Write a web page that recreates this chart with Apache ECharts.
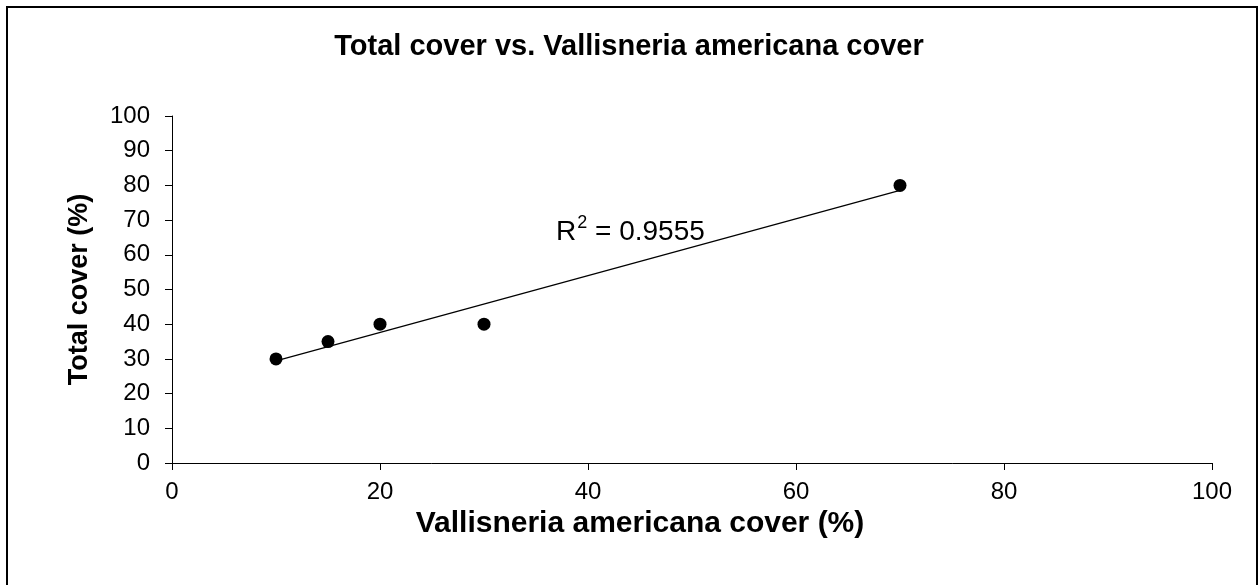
<!DOCTYPE html>
<html>
<head>
<meta charset="utf-8">
<title>Total cover vs. Vallisneria americana cover</title>
<script src="https://cdn.jsdelivr.net/npm/echarts@6/dist/echarts.min.js"></script>
<style>
  html, body { margin: 0; padding: 0; background: #fff; }
  #chart { width: 1258px; height: 585px; }
</style>
</head>
<body>
<div id="chart"></div>
<script>
// Survey plots: Vallisneria americana cover and total cover (%)
const vallisneriaCover = [10, 15, 20, 30, 70];
const totalCover = [30, 35, 40, 40, 80];
const rSquaredText = '0.9555';

const FONT = 'Arial, "Liberation Sans", sans-serif';

// Least-squares linear trendline through the points
function linearFit(xs, ys) {
  const n = xs.length;
  const mx = xs.reduce((a, b) => a + b, 0) / n;
  const my = ys.reduce((a, b) => a + b, 0) / n;
  let sxy = 0, sxx = 0;
  for (let i = 0; i < n; i++) {
    sxy += (xs[i] - mx) * (ys[i] - my);
    sxx += (xs[i] - mx) * (xs[i] - mx);
  }
  const slope = sxy / sxx;
  return { slope, intercept: my - slope * mx };
}
const fit = linearFit(vallisneriaCover, totalCover);
const xMin = Math.min(...vallisneriaCover);
const xMax = Math.max(...vallisneriaCover);
const trend = [
  [xMin, fit.intercept + fit.slope * xMin],
  [xMax, fit.intercept + fit.slope * xMax]
];

const points = vallisneriaCover.map((x, i) => [x, totalCover[i]]);

const chart = echarts.init(document.getElementById('chart'), null, { renderer: 'canvas' });
chart.setOption({
  backgroundColor: '#ffffff',
  animation: false,
  textStyle: { fontFamily: FONT, color: '#000' },
  title: {
    text: 'Total cover vs. Vallisneria americana cover',
    left: 'center',
    top: 27,
    textStyle: { fontFamily: FONT, fontSize: 29, fontWeight: 'bold', color: '#000' }
  },
  grid: { left: 172, right: 46, top: 116, bottom: 122, containLabel: false },
  xAxis: {
    type: 'value',
    min: 0, max: 100, interval: 20,
    name: 'Vallisneria americana cover (%)',
    nameLocation: 'middle',
    nameGap: 42,
    nameTextStyle: { fontFamily: FONT, fontSize: 30, fontWeight: 'bold', color: '#000', padding: [0, 104, 0, 0] },
    axisLine: { lineStyle: { color: '#000', width: 1 } },
    axisTick: { inside: false, length: 7, lineStyle: { color: '#000' } },
    axisLabel: { fontFamily: FONT, fontSize: 24, color: '#000', margin: 17 },
    splitLine: { show: false }
  },
  yAxis: {
    type: 'value',
    min: 0, max: 100, interval: 10,
    name: 'Total cover (%)',
    nameLocation: 'middle',
    nameGap: 79,
    nameRotate: 90,
    nameTextStyle: { fontFamily: FONT, fontSize: 27, fontWeight: 'bold', color: '#000' },
    axisLine: { show: true, lineStyle: { color: '#000', width: 1 } },
    axisTick: { show: true, inside: false, length: 7, lineStyle: { color: '#000' } },
    axisLabel: { fontFamily: FONT, fontSize: 24, color: '#000', margin: 22 },
    splitLine: { show: false }
  },
  series: [
    {
      type: 'line',
      data: trend,
      symbol: 'none',
      lineStyle: { color: '#000', width: 1.2 },
      silent: true,
      z: 2
    },
    {
      type: 'scatter',
      data: points,
      symbol: 'circle',
      symbolSize: 13,
      itemStyle: { color: '#000', opacity: 1 },
      z: 3
    }
  ],
  graphic: [
    {
      type: 'rect',
      shape: { x: 7, y: 7, width: 1250, height: 600 },
      style: { fill: 'none', stroke: '#000', lineWidth: 2 },
      silent: true
    },
    {
      type: 'text',
      left: 556,
      top: 214,
      style: {
        text: '{b|R}{s|2}{b| = ' + rSquaredText + '}',
        rich: {
          b: { fontFamily: FONT, fontSize: 28, color: '#000', verticalAlign: 'bottom', lineHeight: 32 },
          s: { fontFamily: FONT, fontSize: 18, color: '#000', verticalAlign: 'top', lineHeight: 32, padding: [0, 0, 15, 1] }
        }
      }
    }
  ]
});
</script>
</body>
</html>
